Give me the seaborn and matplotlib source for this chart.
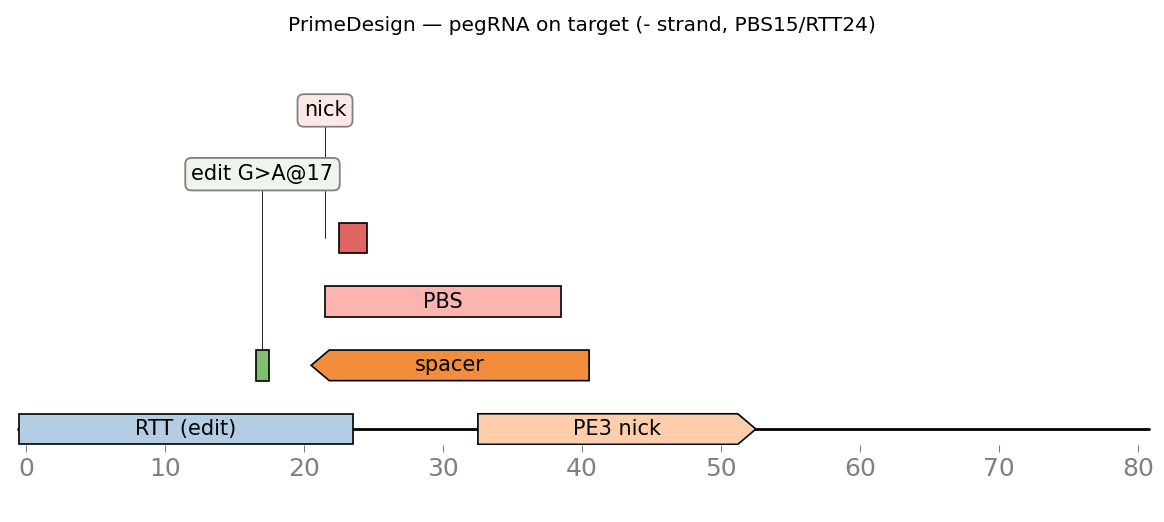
import matplotlib
matplotlib.use("Agg")
import matplotlib.pyplot as plt
import seaborn as sns
from matplotlib.patches import Polygon

sns.set_style("white")
plt.rcParams['font.family'] = ['DejaVu Sans']
plt.rcParams['text.color'] = 'black'

# feature data
names = ["RTT (edit)", "PE3 nick", "spacer", "PBS", "", ""]
starts = [-0.5, 32.5, 20.5, 21.5, 22.5, 16.5]
ends = [23.5, 52.5, 40.5, 38.5, 24.5, 17.5]
strands = [0, 1, -1, 0, 0, 0]
levels = [0, 0, 1, 2, 3, 1]
colors = ["#b3cde3", "#fdcdac", "#f28e3b", "#fbb4ae", "#e06666", "#7fbf6f"]

seq_len = 80.8
label_texts = ["edit G>A@17", "nick"]
label_x = [17, 21.5]
label_level = [4, 5]
label_from = [1, 3]
label_fc = ["#eef5ea", "#fde8e6"]

fig = plt.figure(figsize=(11.64, 5.22), dpi=100)
ax = fig.add_axes([0.013, 0.1475, 0.979, 0.68])
ax.set_xlim(-0.8, 81.2)
ax.set_ylim(-0.25, 5.32)

ax.plot([-0.6, seq_len], [0, 0], color="black", lw=2, zorder=1)

h = 0.24
head = 1.3
for n, s, e, st, lv, c in zip(names, starts, ends, strands, levels, colors):
    if st == 1:
        pts = [(s, lv - h), (e - head, lv - h), (e, lv), (e - head, lv + h), (s, lv + h)]
    elif st == -1:
        pts = [(e, lv - h), (s + head, lv - h), (s, lv), (s + head, lv + h), (e, lv + h)]
    else:
        pts = [(s, lv - h), (e, lv - h), (e, lv + h), (s, lv + h)]
    ax.add_patch(Polygon(pts, closed=True, fc=c, ec="black", lw=1.2, zorder=2))
    if n:
        ax.text((s + e) / 2, lv, n, ha="center", va="center", fontsize=15, color="black", zorder=3)

for t, x, lv, fr, fc in zip(label_texts, label_x, label_level, label_from, label_fc):
    ax.plot([x, x], [fr, lv], color="black", lw=0.6, zorder=1)
    ax.text(x, lv, t, ha="center", va="center", fontsize=15, color="black", zorder=4,
            bbox=dict(boxstyle="round,pad=0.3", fc=fc, ec="gray", lw=1.3))

for sp in ax.spines.values():
    sp.set_visible(False)
ax.set_yticks([])
ax.set_xticks(range(0, 81, 10))
ax.tick_params(axis="x", colors="gray", labelsize=18, length=5, direction="out", bottom=True)

fig.suptitle("PrimeDesign — pegRNA on target (- strand, PBS15/RTT24)", fontsize=14.5,
             y=0.97, color="black")
fig.savefig("out.png", dpi=100)
